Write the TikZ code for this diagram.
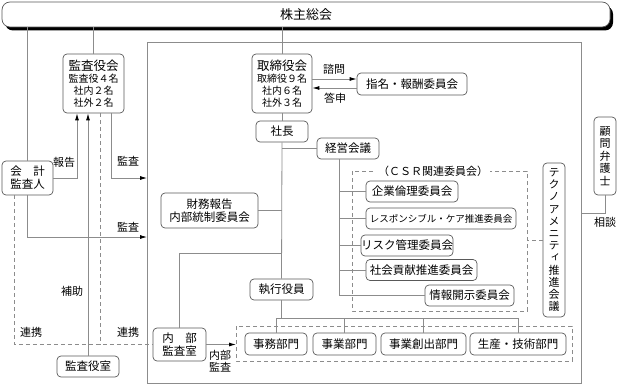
\documentclass[tikz,border=0pt]{standalone}
\usepackage{fontspec}
\setmainfont{Noto Sans CJK JP}
\newfontfamily\tate[RawFeature=+vert]{Noto Sans CJK JP}
\usetikzlibrary{arrows.meta}

\begin{document}
\begin{tikzpicture}[x=1pt,y=-1pt,
    box/.style={draw=black!65, line width=0.7pt, rounded corners=4pt, fill=white, align=center, inner sep=0pt, font=\fontsize{11.5}{13}\selectfont},
    wire/.style={draw=black!45, line width=0.8pt},
    arr/.style={wire, -{Latex[length=7pt,width=4pt,black]}},
    dashline/.style={draw=black!45, line width=0.7pt, dash pattern=on 4pt off 3pt},
    tag/.style={inner sep=0pt, font=\fontsize{11}{12.5}\selectfont, align=center}]
  \useasboundingbox (0,0) rectangle (617,385);

  % frame
  \coordinate (fnw) at (147,42);
  \coordinate (fse) at (581,383);
  \draw[wire] (fnw) rectangle (fse);

  % shareholders
  \fill[black, rounded corners=8pt] (5,6) rectangle (613,30.5);
  \node[box, rounded corners=8pt, minimum width=608pt, minimum height=25pt, font=\fontsize{13}{14}\selectfont] (sokai) at (306,14.5) {株主総会};

  % left side
  \node[box, minimum width=61pt, minimum height=59pt, font=\fontsize{10}{12}\selectfont] (kansa) at (93.5,83.5) {{\fontsize{12.5}{14}\selectfont 監査役会}\\監査役４名\\社内２名\\社外２名};
  \node[box, minimum width=51pt, minimum height=34pt] (kaikei) at (27.5,178) {会　計\\監査人};
  \node[box, minimum width=62pt, minimum height=21pt] (shitsu) at (88,366.5) {監査役室};

  % board
  \node[box, minimum width=60pt, minimum height=59pt, font=\fontsize{10}{12}\selectfont] (tori) at (282,83.5) {{\fontsize{12.5}{14}\selectfont 取締役会}\\取締役９名\\社内６名\\社外３名};
  \node[box, minimum width=110pt, minimum height=22pt] (shimei) at (412,84) {指名・報酬委員会};
  \node[box, minimum width=52pt, minimum height=21pt] (shacho) at (282,131.5) {社長};
  \node[box, minimum width=62pt, minimum height=21pt] (keiei) at (348,148.5) {経営会議};
  \node[box, minimum width=97pt, minimum height=35pt] (zaimu) at (209.5,210.5) {財務報告\\内部統制委員会};
  \node[box, minimum width=63pt, minimum height=21pt] (shikko) at (281.5,289.5) {執行役員};
  \node[box, minimum width=53pt, minimum height=33pt] (naibu) at (179.5,344.5) {内　部\\監査室};

  % divisions
  \coordinate (dnw) at (236,326);
  \coordinate (dse) at (572,361);
  \draw[dashline] (dnw) rectangle (dse);
  \node[box, minimum width=62pt, minimum height=22pt] (jimu) at (276,344) {事務部門};
  \node[box, minimum width=63pt, minimum height=22pt] (jigyo) at (344.5,344) {事業部門};
  \node[box, minimum width=85pt, minimum height=22pt] (sosyutsu) at (423.5,344) {事業創出部門};
  \node[box, minimum width=96pt, minimum height=22pt] (seisan) at (518,344) {生産・技術部門};

  % CSR committees
  \coordinate (cnw) at (352,171);
  \coordinate (cse) at (527,311);
  \draw[dashline] (cnw) rectangle (cse);
  \node[fill=white, inner sep=2pt, font=\fontsize{11}{12}\selectfont] (csr) at (433,171) {（ＣＳＲ関連委員会）};
  \node[box, minimum width=92pt, minimum height=21pt] (rinri) at (412,191.5) {企業倫理委員会};
  \node[box, minimum width=150pt, minimum height=21pt, font=\fontsize{9.5}{11}\selectfont] (rc) at (441,218.5) {レスポンシブル・ケア推進委員会};
  \node[box, minimum width=82pt, minimum height=21pt] (risk) at (407,245.5) {リスク管理委員会};
  \node[box, minimum width=111pt, minimum height=21pt] (kouken) at (421.5,270) {社会貢献推進委員会};
  \node[box, minimum width=89pt, minimum height=21pt] (kaiji) at (469.5,295.5) {情報開示委員会};

  \node[box, minimum width=22pt, minimum height=154pt, font={\tate\fontsize{11}{12.2}\selectfont}] (techno) at (554,240) {テ\\ク\\ノ\\ア\\メ\\ニ\\テ\\ィ\\推\\進\\会\\議};
  \node[box, minimum width=22pt, minimum height=78pt, font=\fontsize{11}{12.6}\selectfont] (komon) at (605,156) {顧\\問\\弁\\護\\士};

  % connectors
  \draw[wire] (kansa.north) -- (kansa.north |- sokai.south);
  \draw[wire] (tori.north) -- (tori.north |- sokai.south);
  \draw[wire] (kaikei.north) -- (kaikei.north |- sokai.south);
  \draw[arr] (kaikei.east) -| ([xshift=-16.5pt]kansa.south);
  \draw[arr] (shitsu.north) -- (shitsu.north |- kansa.south);
  \draw[dashline] ([xshift=6.5pt]kansa.south) -- ([xshift=6.5pt]kansa.south |- naibu.west);
  \draw[dashline] ([xshift=-13.5pt]kaikei.south) |- (naibu.west);
  \draw[arr] ([xshift=17.5pt]kansa.south) |- (fnw |- kaikei.east);
  \draw[arr] (kaikei.south) |- (fnw |- 0,237);

  \draw[wire] (tori.south) -- (shacho.north);
  \draw[arr] (tori.east |- 0,79) -- (shimei.west |- 0,79);
  \draw[arr] (shimei.west |- 0,88) -- (tori.east |- 0,88);
  \draw[wire] (shacho.south) -- (shikko.north);
  \draw[wire] (keiei.west) -- (keiei.west -| shacho.south);
  \draw[wire] (zaimu.east) -- (zaimu.east -| shacho.south);
  \draw[wire] (shacho.south |- 0,253) -| (naibu.north);
  \draw[wire] (shikko.south) -- (shikko.south |- 0,318);
  \draw[wire] (jimu.north |- 0,318) -- (seisan.north |- 0,318);
  \foreach \b in {jimu,jigyo,sosyutsu,seisan}
    \draw[wire] (\b.north) -- (\b.north |- 0,318);
  \draw[arr] (naibu.east) -- (naibu.east -| dnw);

  \coordinate (trunk) at ([xshift=-9pt]keiei.south);
  \draw[wire] (trunk) |- (kaiji.west);
  \foreach \c in {rinri,rc,risk,kouken}
    \draw[wire] (\c.west) -- (\c.west -| trunk);
  \draw[dashline] (techno.west) -- (techno.west -| cse);
  \draw[wire] (komon.south) |- (fse |- 0,213);

  % labels
  \node[tag] (hokoku) at (64,162) {報告};
  \node[tag] (kansa1) at (128,161) {監査};
  \node[tag] (kansa2) at (128,227) {監査};
  \node[tag] (hojo) at (72,291) {補助};
  \node[tag] (renkei1) at (31,332) {連携};
  \node[tag] (renkei2) at (128,332) {連携};
  \node[tag] (shimon) at (334,69) {諮問};
  \node[tag] (toshin) at (335,98) {答申};
  \node[tag] (naibukansa) at (220,361) {内部\\監査};
  \node[tag] (sodan) at (605,222) {相談};
\end{tikzpicture}
\end{document}
